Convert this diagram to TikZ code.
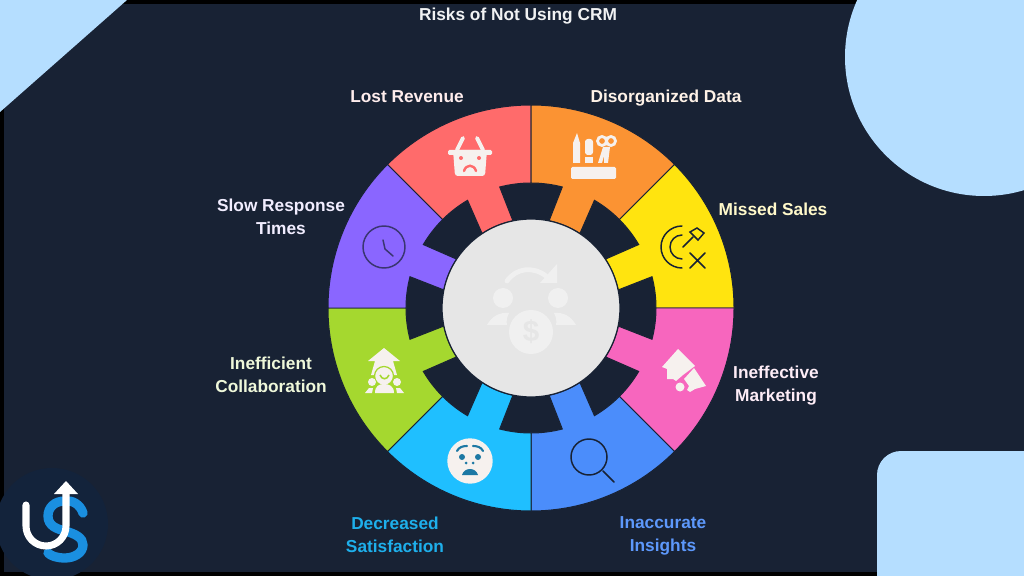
\documentclass[tikz,border=0pt]{standalone}
\usepackage{fontspec}
\setmainfont{Liberation Sans}
\definecolor{navy}{HTML}{182234}
\definecolor{logoback}{HTML}{13233B}
\definecolor{logoblue}{HTML}{1A8FE0}
\definecolor{skyblue}{HTML}{B5DEFF}
\definecolor{hub}{HTML}{E6E6E6}
\definecolor{hubicon}{HTML}{F0F0F0}
\definecolor{paper}{HTML}{F6F1EE}
\definecolor{segred}{HTML}{FF6B6B}
\definecolor{segorange}{HTML}{FB9333}
\definecolor{segyellow}{HTML}{FFE40F}
\definecolor{segpink}{HTML}{F766BE}
\definecolor{segblue}{HTML}{4B8DFB}
\definecolor{segcyan}{HTML}{1FBFFF}
\definecolor{seggreen}{HTML}{A5D82F}
\definecolor{segpurple}{HTML}{8A66FF}
\tikzset{
  caption/.style = {font = \fontsize{12.3}{16.4}\selectfont\bfseries, align = center, inner sep = 0pt},
  inkline/.style = {draw = #1, line width = 1.05pt, line cap = round, fill = none},
  paperfill/.style = {fill = paper, draw = none}
}
\begin{document}
\begin{tikzpicture}[x = 0.025cm, y = -0.025cm]
\clip (0, 0) rectangle (1024, 576);
\fill[black] (0, 0) rectangle (1024, 576);
\fill[navy] (4, 4) rectangle (1024, 572);
\fill[skyblue] (0, 0) -- (127, 0) -- (0, 112) -- cycle;
\fill[skyblue] (984, 57) circle (139);
\fill[skyblue, rounded corners = 0.6cm] (877, 451) rectangle (1060, 620);
% wheel
\begin{scope}[shift = {(531, 308)}, yscale = -1]
\foreach \a/\col in {90/segred, 45/segorange, 0/segyellow, -45/segpink, -90/segblue, -135/segcyan, 180/seggreen, 135/segpurple} {
  \pgfmathsetmacro{\m}{\a + 22.5}
  \filldraw[fill = \col, draw = navy, line width = 0.7pt]
    (\a:203) arc[start angle = \a, end angle = \a + 45, radius = 203]
    -- ({\a + 45}:125) arc[start angle = \a + 45, end angle = \m + 8, radius = 125]
    -- ({\m + 10.8}:89) arc[start angle = \m + 10.8, end angle = \m - 10.8, radius = 89]
    -- ({\m - 8}:125) arc[start angle = \m - 8, end angle = \a, radius = 125] -- cycle;
}
\filldraw[fill = hub, draw = navy, line width = 0.9pt] (0, 0) circle (89);
\end{scope}
% hub icon
\fill[hubicon] (531, 332) circle (22);
\node[text = hub, font = \fontsize{21}{21}\selectfont\bfseries, inner sep = 0pt] (dollar) at (531, 332) {\$};
\fill[hubicon] (503, 298) circle (10) (558, 298) circle (10);
\fill[hubicon] (487, 325) .. controls (492, 316) and (500, 312) .. (509, 313) .. controls (507, 317) and (506, 321) .. (507, 325) -- cycle;
\fill[hubicon] (576, 325) .. controls (571, 316) and (563, 312) .. (554, 313) .. controls (556, 317) and (557, 321) .. (556, 325) -- cycle;
\draw[hubicon, line width = 3.4pt, line cap = round] (507, 281) .. controls (516, 268) and (533, 266) .. (546, 276);
\fill[hubicon] (557, 264) -- (557, 283) -- (540, 283) -- cycle;
% basket
\fill[paperfill, rounded corners = 2pt] (453, 150) -- (487, 150) -- (485, 176) -- (455, 176) -- cycle;
\fill[paperfill, rounded corners = 1pt] (448, 150) rectangle (492, 155);
\draw[paper, line width = 2.8pt, line cap = round] (457, 150) -- (463, 138) (483, 150) -- (477, 138);
\fill[segred] (461, 158) circle (2) (479, 158) circle (2);
\draw[segred, line width = 1.7pt, line cap = round] (464, 171) .. controls (466, 164) and (474, 164) .. (476, 171);
% supplies
\fill[paperfill, rounded corners = 1pt] (571, 167) rectangle (616, 179);
\fill[paperfill] (573, 163) -- (573, 143) -- (577, 133) -- (580, 143) -- (580, 163) -- cycle;
\fill[paperfill, rounded corners = 2pt] (585, 155) -- (585, 139) -- (593, 139) -- (593, 155) -- cycle;
\fill[paperfill] (585, 157) rectangle (593, 163);
\draw[paper, line width = 2pt] (602, 141) circle (4.5) (611, 141) circle (4.5);
\fill[paperfill] (603, 147) -- (610, 147) -- (608, 163) -- (604, 163) -- (604, 156) -- (602, 163) -- (598, 163) -- cycle;
% target
\draw[inkline = navy] (682, 226) arc[start angle = -90, end angle = -270, radius = 21];
\draw[inkline = navy] (682, 235) arc[start angle = -90, end angle = -270, radius = 12];
\draw[inkline = navy] (683, 247) -- (693, 237);
\draw[inkline = navy] (690, 232) -- (697, 228) -- (704, 233) -- (698, 240) -- cycle;
\draw[inkline = navy] (690, 253) -- (705, 268) (705, 253) -- (690, 268);
% house and megaphone
\fill[paperfill] (662, 367) -- (678, 349) -- (695, 366) -- (683, 375) -- (676, 381) -- (673, 379) -- (667, 379) -- (667, 369) -- cycle;
\fill[paperfill] (694, 368) -- (706, 386) -- (695, 389) -- (690, 392) -- (687, 390) -- (689, 386) -- (684, 379) -- cycle;
\fill[paper] (680, 387) circle (4.5);
% magnifier
\draw[inkline = navy] (589, 457) circle (18);
\draw[inkline = navy] (603, 471) -- (614, 482);
% face
\fill[paper] (470, 461) circle (22.7);
\fill[segcyan!55!navy] (462, 457) circle (3) (478, 457) circle (3);
\fill[segcyan!55!navy] (466, 463) circle (1.5) (473, 463) circle (1.5);
\draw[segcyan!55!navy, line width = 1.5pt, line cap = round] (457, 451) .. controls (459, 447) and (463, 446) .. (467, 446);
\draw[segcyan!55!navy, line width = 1.5pt, line cap = round] (473, 446) .. controls (477, 446) and (481, 447) .. (483, 451);
\fill[segcyan!55!navy] (462, 475) .. controls (464, 467) and (476, 467) .. (478, 475) -- cycle;
% team
\fill[paperfill] (384, 348) -- (400, 361) -- (393, 361) -- (397, 375) -- (371, 375) -- (375, 361) -- (368, 361) -- cycle;
\filldraw[fill = paper, draw = seggreen, line width = 0.9pt] (384, 376) circle (9.5);
\draw[seggreen, line width = 1.1pt] (380, 375) .. controls (382, 380) and (387, 380) .. (389, 375);
\fill[paper] (372, 382) circle (4) (397, 382) circle (4);
\fill[paperfill] (375, 393) .. controls (375, 386) and (379, 384) .. (384, 384) .. controls (389, 384) and (394, 386) .. (394, 393) -- cycle;
\fill[paperfill] (365, 393) -- (369, 388) -- (373, 388) -- (372, 393) -- cycle;
\fill[paperfill] (404, 393) -- (400, 388) -- (396, 388) -- (397, 393) -- cycle;
% clock
\draw[inkline = segpurple!30!navy] (384, 247) circle (21);
\draw[inkline = segpurple!30!navy] (383, 240) -- (385, 249) -- (393, 256);
% labels
\node[caption, text = white!94!navy] (title) at (518, 16) {Risks of Not Using CRM};
\node[caption, text = segred!12!white] (revenue) at (407, 97) {Lost Revenue};
\node[caption, text = segorange!12!white] (data) at (666, 98) {Disorganized Data};
\node[caption, text = segyellow!22!white] (sales) at (773, 209) {Missed Sales};
\node[caption, text = segpink!12!white] (marketing) at (776, 386) {Ineffective\\Marketing};
\node[caption, text = segblue!90!white] (insights) at (663, 536) {Inaccurate\\Insights};
\node[caption, text = segcyan!90!navy] (satisfaction) at (395, 535) {Decreased\\Satisfaction};
\node[caption, text = seggreen!18!white] (collaboration) at (271, 375) {Inefficient\\Collaboration};
\node[caption, text = segpurple!12!white] (response) at (281, 217) {Slow Response\\Times};
% logo
\fill[logoback] (52, 524) circle (56);
\draw[logoblue, line width = 6.6pt, line cap = round] (83, 513) .. controls (80, 504) and (72, 500) .. (65, 501) .. controls (54, 501) and (48, 508) .. (48, 516) .. controls (48, 526) and (57, 529) .. (65, 531) .. controls (76, 534) and (83, 538) .. (83, 545) .. controls (83, 553) and (74, 558) .. (65, 558) .. controls (57, 558) and (51, 556) .. (48, 553);
\draw[white, line width = 5pt, line cap = round] (26, 505) -- (26, 526) arc[start angle = 180, end angle = 0, radius = 20] -- (66, 490);
\fill[white] (66, 481) -- (78, 494) -- (54, 494) -- cycle;
\end{tikzpicture}
\end{document}
